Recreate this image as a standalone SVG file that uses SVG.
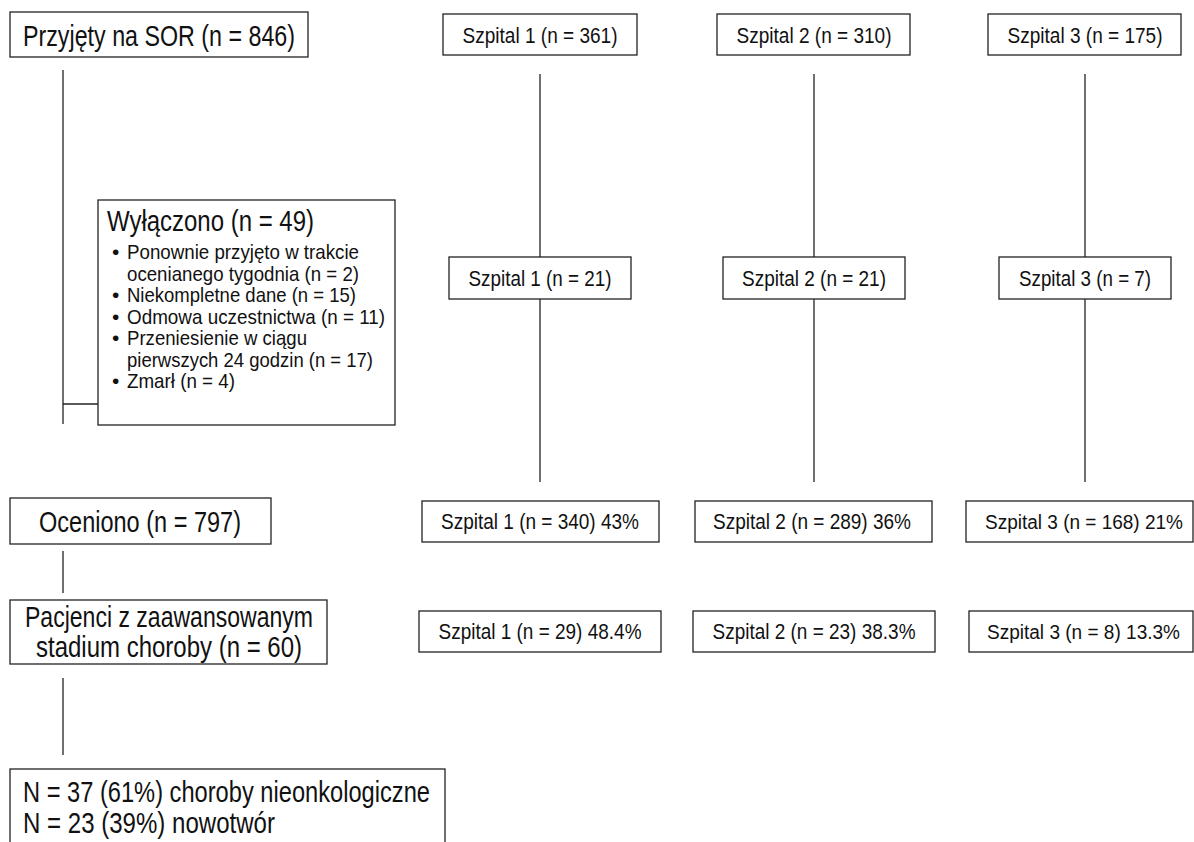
<svg xmlns="http://www.w3.org/2000/svg" width="1194" height="842" viewBox="0 0 1194 842">
<style>
rect.box{fill:#fff;stroke:#222;stroke-width:1.3}
line.c{stroke:#222;stroke-width:1.3}
text{font-family:"Liberation Sans",Arial,sans-serif;fill:#111}
.big{font-size:29px}
.hosp{font-size:22.5px}
.edge{font-size:19.5px}
.sm{font-size:21px}
.mid{text-anchor:middle}
</style>
<rect width="1194" height="842" fill="#fff"/>
<g id="connectors">
<line class="c" x1="63" y1="70" x2="63" y2="424"/>
<line class="c" x1="63" y1="404" x2="98" y2="404"/>
<line class="c" x1="63" y1="551" x2="63" y2="593"/>
<line class="c" x1="63" y1="678" x2="63" y2="755"/>
<line class="c" x1="540" y1="74" x2="540" y2="482"/>
<line class="c" x1="814" y1="74" x2="814" y2="482"/>
<line class="c" x1="1085" y1="74" x2="1085" y2="482"/>
</g>
<g id="n-admitted">
<rect class="box" x="10" y="12" width="298" height="45"/>
<text class="big mid" x="159" y="46" textLength="272" lengthAdjust="spacingAndGlyphs">Przyjęty na SOR (n = 846)</text>
</g>
<g id="n-h1-top">
<rect class="box" x="443" y="14" width="194" height="41"/>
<text class="hosp mid" x="540" y="43" textLength="155" lengthAdjust="spacingAndGlyphs">Szpital 1 (n = 361)</text>
</g>
<g id="n-h2-top">
<rect class="box" x="717" y="14" width="193" height="41"/>
<text class="hosp mid" x="814" y="43" textLength="155" lengthAdjust="spacingAndGlyphs">Szpital 2 (n = 310)</text>
</g>
<g id="n-h3-top">
<rect class="box" x="988" y="14" width="193" height="41"/>
<text class="hosp mid" x="1085" y="43" textLength="155" lengthAdjust="spacingAndGlyphs">Szpital 3 (n = 175)</text>
</g>
<g id="n-excluded">
<rect class="box" x="98" y="200" width="297" height="225"/>
<text class="big" x="107" y="231" textLength="207" lengthAdjust="spacingAndGlyphs">Wyłączono (n = 49)</text>
<g class="sm">
<text x="112" y="259">•</text>
<text x="127" y="259" textLength="232" lengthAdjust="spacingAndGlyphs">Ponownie przyjęto w trakcie</text>
<text x="127" y="280.5" textLength="232" lengthAdjust="spacingAndGlyphs">ocenianego tygodnia (n = 2)</text>
<text x="112" y="302">•</text>
<text x="127" y="302" textLength="229" lengthAdjust="spacingAndGlyphs">Niekompletne dane (n = 15)</text>
<text x="112" y="323.5">•</text>
<text x="127" y="323.5" textLength="258" lengthAdjust="spacingAndGlyphs">Odmowa uczestnictwa (n = 11)</text>
<text x="112" y="345">•</text>
<text x="127" y="345" textLength="180" lengthAdjust="spacingAndGlyphs">Przeniesienie w ciągu</text>
<text x="127" y="366.5" textLength="246" lengthAdjust="spacingAndGlyphs">pierwszych 24 godzin (n = 17)</text>
<text x="112" y="388">•</text>
<text x="127" y="388" textLength="108" lengthAdjust="spacingAndGlyphs">Zmarł (n = 4)</text>
</g>
</g>
<g id="n-h1-mid">
<rect class="box" x="449" y="257" width="182" height="42"/>
<text class="hosp mid" x="540" y="286" textLength="143" lengthAdjust="spacingAndGlyphs">Szpital 1 (n = 21)</text>
</g>
<g id="n-h2-mid">
<rect class="box" x="723" y="257" width="182" height="42"/>
<text class="hosp mid" x="814" y="286" textLength="144" lengthAdjust="spacingAndGlyphs">Szpital 2 (n = 21)</text>
</g>
<g id="n-h3-mid">
<rect class="box" x="999" y="257" width="172" height="42"/>
<text class="hosp mid" x="1085" y="286" textLength="132" lengthAdjust="spacingAndGlyphs">Szpital 3 (n = 7)</text>
</g>
<g id="n-assessed">
<rect class="box" x="10" y="498" width="261" height="46"/>
<text class="big mid" x="140" y="532" textLength="202" lengthAdjust="spacingAndGlyphs">Oceniono (n = 797)</text>
</g>
<g id="n-h1-assessed">
<rect class="box" x="422" y="501" width="237" height="41"/>
<text class="hosp mid" x="540" y="529" textLength="198" lengthAdjust="spacingAndGlyphs">Szpital 1 (n = 340) 43%</text>
</g>
<g id="n-h2-assessed">
<rect class="box" x="695" y="501" width="237" height="41"/>
<text class="hosp mid" x="812" y="529" textLength="198" lengthAdjust="spacingAndGlyphs">Szpital 2 (n = 289) 36%</text>
</g>
<g id="n-h3-assessed">
<rect class="box" x="966" y="501" width="227" height="41"/>
<text class="edge mid" x="1084" y="529" textLength="198" lengthAdjust="spacingAndGlyphs">Szpital 3 (n = 168) 21%</text>
</g>
<g id="n-advanced">
<rect class="box" x="10" y="600" width="317" height="64"/>
<text class="big mid" x="169" y="627" textLength="288" lengthAdjust="spacingAndGlyphs">Pacjenci z zaawansowanym</text>
<text class="big mid" x="169" y="657" textLength="266" lengthAdjust="spacingAndGlyphs">stadium choroby (n = 60)</text>
</g>
<g id="n-h1-advanced">
<rect class="box" x="419" y="611" width="242" height="41"/>
<text class="hosp mid" x="540" y="639" textLength="203" lengthAdjust="spacingAndGlyphs">Szpital 1 (n = 29) 48.4%</text>
</g>
<g id="n-h2-advanced">
<rect class="box" x="693" y="611" width="242" height="41"/>
<text class="hosp mid" x="814" y="639" textLength="203" lengthAdjust="spacingAndGlyphs">Szpital 2 (n = 23) 38.3%</text>
</g>
<g id="n-h3-advanced">
<rect class="box" x="969" y="611" width="224" height="41"/>
<text class="edge mid" x="1083.5" y="639" textLength="193" lengthAdjust="spacingAndGlyphs">Szpital 3 (n = 8) 13.3%</text>
</g>
<g id="n-breakdown">
<rect class="box" x="10" y="769" width="435" height="80"/>
<text class="big" x="23" y="802" textLength="407" lengthAdjust="spacingAndGlyphs">N = 37 (61%) choroby nieonkologiczne</text>
<text class="big" x="23" y="833" textLength="252" lengthAdjust="spacingAndGlyphs">N = 23 (39%) nowotwór</text>
</g>
</svg>
